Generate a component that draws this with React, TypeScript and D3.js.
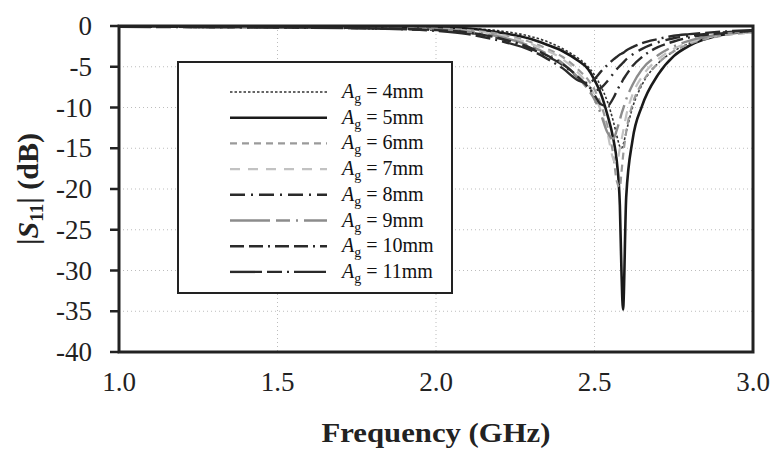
import React from 'react';
import * as d3 from 'd3';

// frequency grid (GHz) shared by every series
const freqs = [1.0, 1.5, 1.8, 2.0, 2.1, 2.2, 2.3, 2.35, 2.4, 2.45, 2.48, 2.5, 2.52, 2.54, 2.56, 2.57, 2.58, 2.585, 2.59, 2.6, 2.62, 2.65, 2.7, 2.75, 2.8, 2.9, 3.0];

// |S11| (dB)
const ag4 = [-0.1, -0.1, -0.15, -0.2, -0.3, -0.6, -1.3, -1.9, -2.8, -4.0, -5.0, -6.0, -7.4, -9.2, -11.8, -13.4, -14.8, -15, -14.6, -13, -10, -7.2, -4.6, -3.1, -2.1, -1.1, -0.7];
const ag5 = [-0.1, -0.1, -0.15, -0.2, -0.3, -0.8, -1.6, -2.3, -3.1, -4.3, -5.3, -6.6, -8.3, -10.8, -14, -16.5, -22, -30, -34.8, -21, -14, -9.8, -6.0, -3.7, -2.4, -1.1, -0.7];
const ag6 = [-0.1, -0.15, -0.2, -0.3, -0.5, -1.0, -2.0, -2.8, -3.8, -5.4, -6.6, -7.8, -9.6, -12.2, -16, -19, -19.8, -18, -16, -13, -9.6, -7, -4.6, -3.1, -2.2, -1.2, -0.8];
const ag7 = [-0.1, -0.15, -0.2, -0.35, -0.6, -1.1, -2.2, -3.0, -4.1, -5.8, -7.2, -8.5, -10.4, -13, -16.4, -16.8, -15, -14, -13, -11, -8.4, -6.2, -4.1, -2.8, -2.0, -1.1, -0.8];
const ag8 = [-0.1, -0.15, -0.3, -0.5, -0.8, -1.5, -2.8, -3.7, -4.8, -6.4, -7.4, -7.9, -7.6, -6.8, -5.8, -5.3, -4.9, -4.7, -4.5, -4.1, -3.5, -2.8, -2.0, -1.5, -1.2, -0.8, -0.6];
const ag9 = [-0.1, -0.15, -0.25, -0.4, -0.7, -1.3, -2.5, -3.4, -4.6, -6.4, -7.8, -9.0, -10.8, -13, -13.8, -12.8, -11.5, -10.8, -10.2, -9, -7.2, -5.3, -3.6, -2.5, -1.8, -1.0, -0.7];
const ag10 = [-0.1, -0.15, -0.3, -0.5, -0.8, -1.5, -2.7, -3.6, -4.7, -6.3, -7.5, -8.5, -9.6, -9.8, -8.8, -8.0, -7.3, -7.0, -6.6, -6.0, -4.9, -3.8, -2.6, -1.9, -1.4, -0.9, -0.6];
const ag11 = [-0.1, -0.2, -0.3, -0.6, -1.0, -1.8, -3.0, -4.0, -5.2, -6.7, -7.0, -6.5, -5.6, -4.8, -4.1, -3.8, -3.5, -3.4, -3.3, -3.0, -2.6, -2.1, -1.6, -1.2, -1.0, -0.7, -0.5];

const labels = ['4mm', '5mm', '6mm', '7mm', '8mm', '9mm', '10mm', '11mm'];
const seriesValues = [ag4, ag5, ag6, ag7, ag8, ag9, ag10, ag11];
const styles = [
  { color: '#333', width: 1.6, dash: '2.5,2' },
  { color: '#1a1a1a', width: 2.6, dash: '' },
  { color: '#9a9a9a', width: 2.2, dash: '7,5' },
  { color: '#c2c2c2', width: 2.2, dash: '10,8' },
  { color: '#2a2a2a', width: 2.4, dash: '15,6,2,6' },
  { color: '#8c8c8c', width: 2.4, dash: '40,6,14,6,2,6' },
  { color: '#2a2a2a', width: 2.4, dash: '14,5,14,5,2,5' },
  { color: '#2a2a2a', width: 2.4, dash: '32,5,15,5,2,5' },
];

const xTicks = [1.0, 1.5, 2.0, 2.5, 3.0];
const yTicks = [0, -5, -10, -15, -20, -25, -30, -35, -40];

const W = 777;
const H = 453;
const plot = { left: 119, right: 753, top: 26, bottom: 352 };
const serif = "'Liberation Serif', 'Times New Roman', 'DejaVu Serif Condensed', serif";

export default function App() {
  const x = d3.scaleLinear().domain([1, 3]).range([plot.left, plot.right]);
  const y = d3.scaleLinear().domain([0, -40]).range([plot.top, plot.bottom]);
  const line = d3
    .line<number>()
    .x((_, i) => x(freqs[i]))
    .y((d) => y(d))
    .curve(d3.curveMonotoneX);

  const legend = { x: 178, y: 62, w: 274, h: 231 };
  const rowY = (i: number) => 92 + i * 25.7;

  return (
    <svg width={W} height={H} style={{ position: 'absolute', left: 0, top: 0, background: '#fff', fontFamily: serif }}>
      <defs>
        <clipPath id="plotClip">
          <rect x={plot.left} y={plot.top - 2} width={plot.right - plot.left} height={plot.bottom - plot.top + 2} />
        </clipPath>
      </defs>

      {/* dotted grid */}
      {yTicks.slice(1, -1).map((t) => (
        <line key={'gy' + t} x1={plot.left} x2={plot.right} y1={y(t)} y2={y(t)} stroke="#bdbdbd" strokeWidth={1} strokeDasharray="1,3" />
      ))}
      {xTicks.slice(1, -1).map((t) => (
        <line key={'gx' + t} x1={x(t)} x2={x(t)} y1={plot.top} y2={plot.bottom} stroke="#bdbdbd" strokeWidth={1} strokeDasharray="1,3" />
      ))}

      {/* curves */}
      <g clipPath="url(#plotClip)">
        {seriesValues.map((vals, i) => (
          <path
            key={labels[i]}
            d={line(vals) || ''}
            fill="none"
            stroke={styles[i].color}
            strokeWidth={styles[i].width}
            strokeDasharray={styles[i].dash || undefined}
            strokeLinejoin="round"
          />
        ))}
      </g>

      {/* legend */}
      <rect x={legend.x} y={legend.y} width={legend.w} height={legend.h} fill="#fff" stroke="#222" strokeWidth={2} />
      {labels.map((lab, i) => (
        <g key={'lg' + lab}>
          <line x1={230} x2={327} y1={rowY(i)} y2={rowY(i)} stroke={styles[i].color} strokeWidth={styles[i].width} strokeDasharray={styles[i].dash || undefined} />
          <text x={342} y={rowY(i) + 6} fontSize={20} fill="#111">
            <tspan fontStyle="italic">A</tspan>
            <tspan fontSize={14} dy={5}>g</tspan>
            <tspan dy={-5}>{' = ' + lab}</tspan>
          </text>
        </g>
      ))}

      {/* frame */}
      <rect x={plot.left} y={plot.top} width={plot.right - plot.left} height={plot.bottom - plot.top} fill="none" stroke="#222" strokeWidth={3} />
      {yTicks.map((t) => (
        <line key={'ty' + t} x1={plot.left - 9} x2={plot.left} y1={y(t)} y2={y(t)} stroke="#222" strokeWidth={2.5} />
      ))}

      {/* tick labels */}
      {yTicks.map((t) => (
        <text key={'ly' + t} x={92} y={y(t) + 9} textAnchor="end" fontSize={27} fill="#222">
          {t}
        </text>
      ))}
      {xTicks.map((t) => (
        <text key={'lx' + t} x={x(t)} y={391} textAnchor="middle" fontSize={27} fill="#222">
          {d3.format('.1f')(t)}
        </text>
      ))}

      {/* axis titles */}
      <text x={436} y={442} textAnchor="middle" fontSize={27} fontWeight="bold" fill="#222" textLength={229} lengthAdjust="spacingAndGlyphs">
        Frequency (GHz)
      </text>
      <text transform="translate(38,189) rotate(-90)" textAnchor="middle" fontSize={30} fontWeight="bold" fill="#222">
        |<tspan fontStyle="italic">S</tspan>
        <tspan fontSize={19} dy={5}>11</tspan>
        <tspan dy={-5}>| (dB)</tspan>
      </text>
    </svg>
  );
}
